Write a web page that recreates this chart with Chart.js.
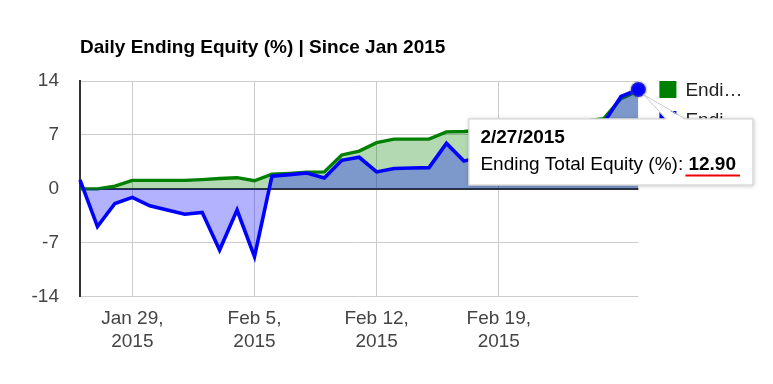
<!DOCTYPE html>
<html>
<head>
<meta charset="utf-8">
<script src="https://cdn.jsdelivr.net/npm/chart.js@4.4.1/dist/chart.umd.min.js"></script>
<style>
  body { margin: 0; background: #fff; }
  #wrap { position: relative; width: 773px; height: 384px; }
</style>
</head>
<body>
<div id="wrap"><canvas id="equity" width="773" height="384"></canvas></div>
<script>
var FONT = 'Arial, "Liberation Sans", sans-serif';

var chartTitle = 'Daily Ending Equity (%) | Since Jan 2015';
var seriesNames = ['Ending Total Equity (%)', 'Ending Benchmark Equity (%)'];
var seriesColors = ['#0000ff', '#008000'];

var dates = ['1/26/2015', '1/27/2015', '1/28/2015', '1/29/2015', '1/30/2015', '1/31/2015',
    '2/1/2015', '2/2/2015', '2/3/2015', '2/4/2015', '2/5/2015', '2/6/2015', '2/7/2015',
    '2/8/2015', '2/9/2015', '2/10/2015', '2/11/2015', '2/12/2015', '2/13/2015', '2/14/2015',
    '2/15/2015', '2/16/2015', '2/17/2015', '2/18/2015', '2/19/2015', '2/20/2015', '2/21/2015',
    '2/22/2015', '2/23/2015', '2/24/2015', '2/25/2015', '2/26/2015', '2/27/2015'];

// blue series
var totalEquity = [1.15, -4.9, -1.9, -1.1, -2.2, -2.75, -3.3, -3.05, -7.95, -2.75, -8.8,
    1.65, 1.85, 2.05, 1.4, 3.7, 4.1, 2.2, 2.65, 2.7, 2.75, 5.9, 3.6,
    4.2, 4.6, 5.0, 5.3, 5.7, 6.1, 6.8, 8.5, 12.0, 12.9];

// green series
var benchmark = [0.0, 0.0, 0.35, 1.1, 1.1, 1.1, 1.1, 1.2, 1.35, 1.45, 1.05,
    1.9, 2.0, 2.15, 2.2, 4.4, 4.9, 6.0, 6.45, 6.45, 6.45, 7.4, 7.45,
    7.6, 7.8, 7.9, 8.1, 8.3, 8.5, 8.8, 9.1, 11.7, 12.7];

var yTicks = [-14, -7, 0, 7, 14];
var xTickDays = [3, 10, 17, 24];
var xTickLabels = [['Jan 29,', '2015'], ['Feb 5,', '2015'], ['Feb 12,', '2015'], ['Feb 19,', '2015']];

var last = dates.length - 1;

function toPoints(arr) {
    return arr.map(function(v, i) { return {x: i, y: v}; });
}

function fitText(ctx, str, maxW) {
    if (ctx.measureText(str).width <= maxW) return str;
    var s = str;
    while (s.length > 1 && ctx.measureText(s + '\u2026').width > maxW) {
        s = s.slice(0, -1);
    }
    return s + '\u2026';
}

var overlay = {
    id: 'overlay',
    afterDraw: function(chart) {
        var ctx = chart.ctx;
        var area = chart.chartArea;
        ctx.save();

        // title
        ctx.fillStyle = '#000';
        ctx.font = 'bold 19px ' + FONT;
        ctx.textBaseline = 'middle';
        ctx.textAlign = 'left';
        ctx.fillText(chartTitle, area.left, 47.5);

        // legend (green first, then blue)
        var order = [1, 0];
        ctx.font = '19px ' + FONT;
        for (var k = 0; k < order.length; k++) {
            var s = order[k];
            var ly = 81 + k * 30;
            ctx.fillStyle = seriesColors[s];
            ctx.fillRect(area.right + 21, ly, 17, 17);
            ctx.fillStyle = '#222';
            ctx.fillText(fitText(ctx, seriesNames[s], 60), area.right + 47, ly + 9.5);
        }

        // tooltip on the last point of the blue series
        var pt = chart.getDatasetMeta(0).data[last];
        var px = pt.x, py = pt.y;
        var bx = px - 170, by = py + 29, bw = 285, bh = 67;

        ctx.save();
        ctx.shadowColor = 'rgba(0,0,0,0.25)';
        ctx.shadowBlur = 4;
        ctx.shadowOffsetX = 1;
        ctx.shadowOffsetY = 1;
        ctx.fillStyle = '#fff';
        ctx.fillRect(bx, by, bw, bh);
        ctx.restore();
        ctx.strokeStyle = '#ccc';
        ctx.lineWidth = 1;
        ctx.strokeRect(bx + 0.5, by + 0.5, bw - 1, bh - 1);

        // callout
        var ax = px + 5, ay = py + 5;
        var b1 = px + 28, b2 = px + 47;
        ctx.fillStyle = '#fff';
        ctx.beginPath();
        ctx.moveTo(ax, ay);
        ctx.lineTo(b1, by + 1.5);
        ctx.lineTo(b2, by + 1.5);
        ctx.closePath();
        ctx.fill();
        ctx.strokeStyle = '#c8c8c8';
        ctx.beginPath();
        ctx.moveTo(b1, by + 0.5);
        ctx.lineTo(ax, ay);
        ctx.lineTo(b2, by + 0.5);
        ctx.stroke();

        // tooltip text
        ctx.fillStyle = '#000';
        ctx.font = 'bold 19px ' + FONT;
        ctx.fillText(dates[last], bx + 12, by + 19.5);
        ctx.font = '19px ' + FONT;
        var lbl = seriesNames[0] + ': ';
        ctx.fillText(lbl, bx + 12, by + 46);
        var vx = bx + 12 + ctx.measureText(lbl).width;
        ctx.font = 'bold 19px ' + FONT;
        var val = totalEquity[last].toFixed(2);
        ctx.fillText(val, vx, by + 46);
        var vw = ctx.measureText(val).width;
        ctx.strokeStyle = '#ee0000';
        ctx.lineWidth = 2;
        ctx.beginPath();
        ctx.moveTo(vx - 3, by + 57);
        ctx.lineTo(vx + vw + 4, by + 57);
        ctx.stroke();

        ctx.restore();
    }
};

var chart = new Chart(document.getElementById('equity').getContext('2d'), {
    type: 'line',
    data: {
        datasets: [{
            label: seriesNames[0],
            data: toPoints(totalEquity),
            borderColor: seriesColors[0],
            backgroundColor: 'rgba(0,0,255,0.3)',
            fill: 'origin',
            borderWidth: 3.6,
            tension: 0,
            clip: false,
            pointRadius: function(c) { return c.dataIndex === last ? 7.5 : 0; },
            pointBackgroundColor: seriesColors[0],
            pointBorderColor: 'rgba(110,110,110,0.25)',
            pointBorderWidth: 3,
            order: 0
        }, {
            label: seriesNames[1],
            data: toPoints(benchmark),
            borderColor: seriesColors[1],
            backgroundColor: 'rgba(0,128,0,0.3)',
            fill: 'origin',
            borderWidth: 3.4,
            tension: 0,
            pointRadius: 0,
            order: 1
        }]
    },
    options: {
        responsive: false,
        animation: false,
        events: [],
        layout: { padding: { top: 81, right: 134.6, left: 0, bottom: 0 } },
        plugins: {
            legend: { display: false },
            title: { display: false },
            tooltip: { enabled: false }
        },
        scales: {
            x: {
                type: 'linear',
                min: 0,
                max: last,
                afterBuildTicks: function(s) {
                    s.ticks = xTickDays.map(function(v) { return {value: v}; });
                },
                afterFit: function(s) { s.height = 87.3; },
                ticks: {
                    autoSkip: false,
                    maxRotation: 0,
                    padding: 11,
                    color: '#444',
                    font: { family: FONT, size: 19 },
                    callback: function(v) { return xTickLabels[xTickDays.indexOf(v)]; }
                },
                grid: { color: '#ccc', drawTicks: false },
                border: { display: false }
            },
            y: {
                min: -14,
                max: 14,
                afterBuildTicks: function(s) {
                    s.ticks = yTicks.map(function(v) { return {value: v}; });
                },
                afterFit: function(s) { s.width = 80; },
                ticks: {
                    padding: 21,
                    color: '#444',
                    font: { family: FONT, size: 19 }
                },
                grid: {
                    drawTicks: false,
                    color: function(c) { return c.tick && c.tick.value === 0 ? '#333' : '#ccc'; },
                    lineWidth: function(c) { return c.tick && c.tick.value === 0 ? 2 : 1; }
                },
                border: { display: true, color: '#333', width: 2 }
            }
        }
    },
    plugins: [overlay]
});
</script>
</body>
</html>
